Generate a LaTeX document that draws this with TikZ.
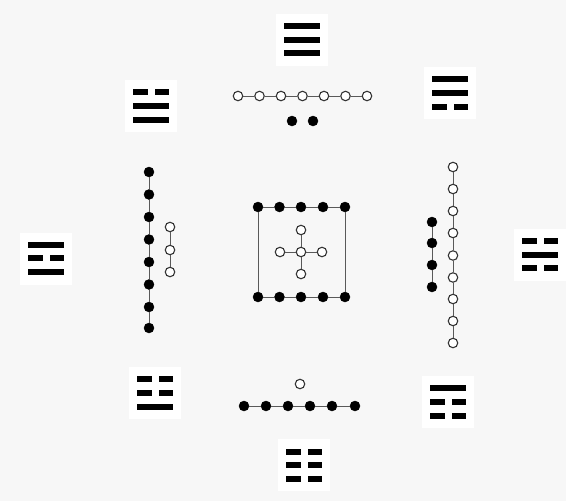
\documentclass[tikz,border=0pt]{standalone}
\begin{document}
\begin{tikzpicture}[x=1pt,y=-1pt,
  bdot/.style={circle,fill=black,draw=black,inner sep=0pt,minimum size=10pt},
  wdot/.style={circle,fill=white,draw=black!80,line width=1.1pt,inner sep=0pt,minimum size=9.5pt},
  link/.style={draw=black!65,line width=0.6pt},
  patch/.style={fill=white,draw=none}]
\fill[black!3] (0,0) rectangle (566,501);
\useasboundingbox (0,0) rectangle (566,501);
% trigram helpers
\def\yang#1#2{\fill[black] ({#1-18},{#2-3.3}) rectangle ({#1+18},{#2+3.3});}
\def\yin#1#2{\fill[black] ({#1-18},{#2-3.3}) rectangle ({#1-3.5},{#2+3.3});
  \fill[black] ({#1+3.5},{#2-3.3}) rectangle ({#1+18},{#2+3.3});}
% white patches
\foreach \cx/\cy in {302/40,151/106,450/93,46/259,540/255,155/393,448/402,304/465}
  \fill[patch] ({\cx-26},{\cy-26}) rectangle ({\cx+26},{\cy+26});
% Qian (top)
\yang{302}{26}\yang{302}{40}\yang{302}{53}
% Dui (top-left)
\yin{151}{92}\yang{151}{106}\yang{151}{120}
% Xun (top-right)
\yang{450}{79}\yang{450}{93}\yin{450}{107}
% Li (left)
\yang{46}{245}\yin{46}{258}\yang{46}{272}
% Kan (right)
\yin{540}{241}\yang{540}{255}\yin{540}{268}
% Zhen (bottom-left)
\yin{155}{379}\yin{155}{393}\yang{155}{407}
% Gen (bottom-right)
\yang{448}{388}\yin{448}{402}\yin{448}{416}
% Kun (bottom)
\yin{304}{452}\yin{304}{465}\yin{304}{479}

% top: 7 white, 2 black
\foreach \i/\x in {1/238,2/259.5,3/281,4/302.5,5/324,6/345.5,7/367}
  \node[wdot] (tw\i) at (\x,96) {};
\foreach \i in {1,...,6}{\pgfmathtruncatemacro\j{\i+1}\draw[link] (tw\i) -- (tw\j);}
\node[bdot] (tb1) at (292,121) {};
\node[bdot] (tb2) at (313,121) {};

% left: 8 black, 3 white
\foreach \i/\y in {1/172,2/194.5,3/217,4/239.5,5/262,6/284.5,7/307,8/328}
  \node[bdot] (lb\i) at (149,\y) {};
\foreach \i in {1,...,7}{\pgfmathtruncatemacro\j{\i+1}\draw[link] (lb\i) -- (lb\j);}
\foreach \i/\y in {1/227,2/250,3/272}
  \node[wdot] (lw\i) at (170,\y) {};
\draw[link] (lw1) -- (lw2); \draw[link] (lw2) -- (lw3);

% right: 9 white, 4 black
\foreach \i/\y in {1/167,2/189,3/211,4/233,5/255.5,6/277.5,7/299,8/321,9/343}
  \node[wdot] (rw\i) at (453,\y) {};
\foreach \i in {1,...,8}{\pgfmathtruncatemacro\j{\i+1}\draw[link] (rw\i) -- (rw\j);}
\foreach \i/\y in {1/222,2/243,3/265,4/287}
  \node[bdot] (rb\i) at (432,\y) {};
\draw[link] (rb1) -- (rb2); \draw[link] (rb2) -- (rb3); \draw[link] (rb3) -- (rb4);

% bottom: 1 white, 6 black
\node[wdot] (bw1) at (300,384) {};
\foreach \i/\x in {1/244,2/266,3/288,4/310,5/332,6/355}
  \node[bdot] (bb\i) at (\x,406) {};
\foreach \i in {1,...,5}{\pgfmathtruncatemacro\j{\i+1}\draw[link] (bb\i) -- (bb\j);}

% center: 10 black (square), 5 white (cross)
\foreach \i/\x in {1/258,2/279.5,3/301,4/323,5/345}{
  \node[bdot] (ct\i) at (\x,207) {};
  \node[bdot] (cb\i) at (\x,297) {};}
\foreach \i in {1,...,4}{\pgfmathtruncatemacro\j{\i+1}
  \draw[link] (ct\i) -- (ct\j); \draw[link] (cb\i) -- (cb\j);}
\draw[link] (ct1) -- (cb1);
\draw[link] (ct5) -- (cb5);
\node[wdot] (cc) at (301,252) {};
\node[wdot] (cn) at (301,230) {};
\node[wdot] (cs) at (301,274) {};
\node[wdot] (cw) at (280,252) {};
\node[wdot] (ce) at (322,252) {};
\draw[link] (cc) -- (cn); \draw[link] (cc) -- (cs);
\draw[link] (cc) -- (cw); \draw[link] (cc) -- (ce);
\end{tikzpicture}
\end{document}
